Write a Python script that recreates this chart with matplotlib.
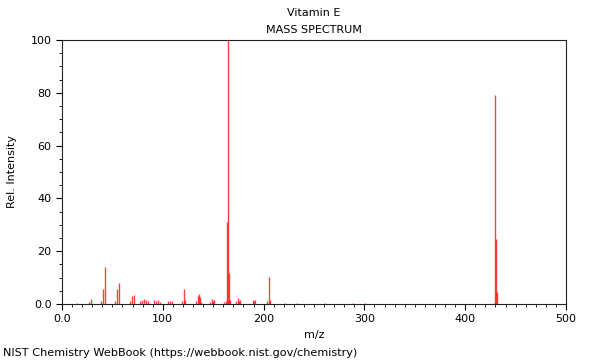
import matplotlib
matplotlib.use('Agg')
import matplotlib.pyplot as plt
from matplotlib.ticker import MultipleLocator

# m/z and relative intensity
mz = [15, 27, 29, 39, 41, 43, 53, 55, 57, 67, 69, 71, 77, 79, 81, 83, 85,
      91, 93, 95, 97, 105, 107, 109, 119, 121, 122, 133, 135, 136, 137, 138,
      147, 149, 150, 151, 161, 163, 164, 165, 166, 167, 173, 175, 176, 177,
      189, 190, 191, 203, 205, 206, 221, 233, 261, 289, 301, 429, 430, 431, 432]
intensity = [0.5, 0.8, 1.8, 1.2, 5.5, 14.0, 1.0, 5.8, 7.8, 1.2, 3.2, 3.4, 1.2, 1.4, 1.8, 1.6, 1.2,
             1.5, 1.2, 1.4, 0.8, 1.0, 1.2, 1.3, 1.0, 5.7, 1.4, 1.0, 3.0, 3.6, 2.6, 0.8,
             0.8, 1.8, 1.2, 1.4, 0.8, 1.2, 31.0, 100.0, 11.8, 1.5, 1.0, 2.2, 1.2, 1.4,
             1.5, 1.0, 1.4, 1.0, 10.2, 1.5, 0.4, 0.3, 0.3, 0.4, 0.3, 0.5, 79.0, 24.5, 4.5]

x_ticks = [0, 100, 200, 300, 400, 500]
x_labels = ['0.0', '100', '200', '300', '400', '500']
y_ticks = [0, 20, 40, 60, 80, 100]
y_labels = ['0.0', '20', '40', '60', '80', '100']

fig = plt.figure(figsize=(6, 3.6), dpi=100)
ax = fig.add_axes([62 / 600, 56 / 360, 504 / 600, 264 / 360])

ax.vlines(mz, 0, intensity, colors='red', linewidth=1.0, alpha=0.75)

ax.set_xticks(x_ticks)
ax.set_xticklabels(x_labels)
ax.set_yticks(y_ticks)
ax.set_yticklabels(y_labels)
ax.xaxis.set_minor_locator(MultipleLocator(10))
ax.yaxis.set_minor_locator(MultipleLocator(5))
ax.set_xlim(0, 500)
ax.set_ylim(0, 100)
ax.tick_params(which='major', length=4, width=0.8, labelsize=8, direction='out')
ax.tick_params(which='minor', length=2, width=0.6, direction='out')
for s in ax.spines.values():
    s.set_linewidth(0.8)
    s.set_color('#222222')

ax.set_xlabel('m/z', fontsize=8, labelpad=4)
ax.set_ylabel('Rel. Intensity', fontsize=8, labelpad=10)

fig.text(314 / 600, 1 - 13 / 360, 'Vitamin E', ha='center', va='center', fontsize=8)
fig.text(314 / 600, 1 - 30 / 360, 'MASS SPECTRUM', ha='center', va='center', fontsize=8)
fig.text(3 / 600, 1 - 353 / 360, 'NIST Chemistry WebBook (https://webbook.nist.gov/chemistry)',
         ha='left', va='center', fontsize=8.15)

fig.savefig('out.png', dpi=100)
